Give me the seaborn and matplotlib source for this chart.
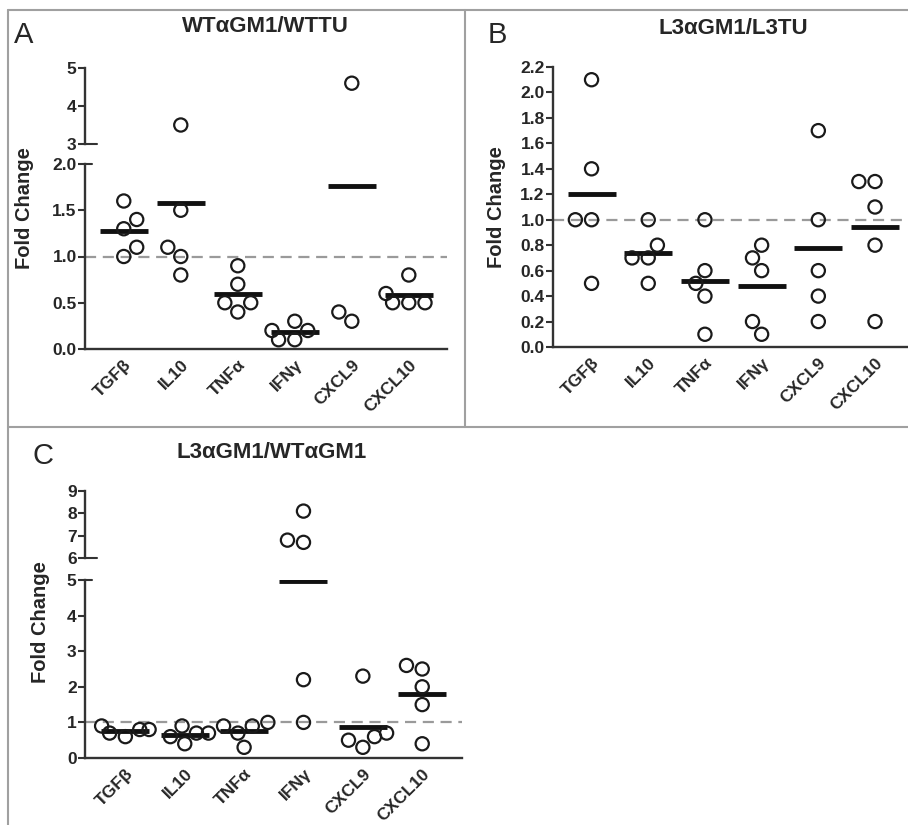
import numpy as np
import pandas as pd
import matplotlib
matplotlib.use('Agg')
import matplotlib.pyplot as plt
import seaborn as sns
from matplotlib.lines import Line2D

sns.set_style('ticks')
plt.rcParams['font.family'] = ['Liberation Sans', 'DejaVu Sans']

genes = ['TGFβ', 'IL10', 'TNFα', 'IFNγ', 'CXCL9', 'CXCL10']

# fold change values (one list per gene)
a_vals = [[1.0, 1.4, 1.6, 1.1, 1.3],
          [0.8, 1.5, 1.1, 1.0, 3.5],
          [0.9, 0.5, 0.4, 0.5, 0.7],
          [0.3, 0.2, 0.1, 0.1, 0.2],
          [0.3, 0.4, 4.6],
          [0.5, 0.5, 0.8, 0.5, 0.6]]
b_vals = [[2.1, 1.4, 1.0, 1.0, 0.5],
          [1.0, 0.8, 0.7, 0.7, 0.5],
          [1.0, 0.6, 0.5, 0.4, 0.1],
          [0.8, 0.7, 0.6, 0.2, 0.1],
          [1.7, 1.0, 0.6, 0.4, 0.2],
          [1.3, 1.3, 1.1, 0.8, 0.2]]
c_vals = [[0.9, 0.8, 0.8, 0.6, 0.7],
          [0.9, 0.7, 0.4, 0.6, 0.7],
          [0.9, 1.0, 0.9, 0.3, 0.7],
          [8.1, 6.7, 6.8, 2.2, 1.0],
          [2.3, 0.5, 0.3, 0.6, 0.7],
          [2.5, 2.6, 2.0, 1.5, 0.4]]

a_ticks_low = [0.0, 0.5, 1.0, 1.5, 2.0]
a_ticks_high = [3, 4, 5]
b_ticks = [0.0, 0.2, 0.4, 0.6, 0.8, 1.0, 1.2, 1.4, 1.6, 1.8, 2.0, 2.2]
c_ticks_low = [0, 1, 2, 3, 4, 5]
c_ticks_high = [6, 7, 8, 9]


def to_df(vals):
    rows = [(g, v) for g, vs in zip(genes, vals) for v in vs]
    return pd.DataFrame(rows, columns=['gene', 'fold'])


INK = '#262626'
SPINE = '#333333'


def style_axis(ax, ticks, fmt, show_x=True):
    ax.set_xlim(-0.68, 5.67)
    ax.set_ylim(ticks[0], ticks[-1])
    ax.set_yticks(ticks)
    ax.set_yticklabels([fmt.format(t) for t in ticks], fontsize=12.5,
                       fontweight='bold', color=INK)
    for s in ['top', 'right']:
        ax.spines[s].set_visible(False)
    for s in ['left', 'bottom']:
        ax.spines[s].set_linewidth(1.7)
        ax.spines[s].set_color(SPINE)
    ax.tick_params(axis='y', length=5, width=1.5, color=SPINE, pad=1)
    ax.set_xlabel('')
    ax.set_ylabel('')
    if show_x:
        ax.tick_params(axis='x', length=0, pad=6)
        ax.set_xticks(range(len(genes)))
        ax.set_xticklabels(genes, rotation=45, ha='right',
                           rotation_mode='anchor', fontsize=12.5,
                           fontweight='bold', color=INK)
    else:
        ax.spines['bottom'].set_visible(False)
        ax.tick_params(axis='x', length=0, labelbottom=False)
    ax.patch.set_alpha(0)


def draw_points(ax, df):
    sns.swarmplot(data=df, x='gene', y='fold', order=genes, ax=ax,
                  size=9.5, color='k', linewidth=1.6, zorder=3)
    for coll in ax.collections:
        coll.set_facecolor('none')
        coll.set_edgecolor('#1a1a1a')
    sns.pointplot(data=df, x='gene', y='fold', order=genes, ax=ax,
                  errorbar=None, markers='_', linestyles='none',
                  color='#111111', markersize=34, markeredgewidth=3.5)


def break_mark(ax, y, ext):
    ax.add_line(Line2D([0, ext], [y, y], transform=ax.transAxes,
                       color=SPINE, lw=1.5, clip_on=False))


fig = plt.figure(figsize=(9.08, 8.25), dpi=100)
W, H = 908, 825


def add_ax(x0, x1, ytop, ybot):
    return fig.add_axes([x0 / W, 1 - ybot / H, (x1 - x0) / W, (ybot - ytop) / H])


# panel A (broken axis)
df_a = to_df(a_vals)
axA_hi = add_ax(85, 447, 68, 144)
axA_lo = add_ax(85, 447, 164, 349)
for ax in (axA_hi, axA_lo):
    draw_points(ax, df_a)
axA_lo.axhline(1.0, color='#9a9a9a', lw=1.6, ls=(0, (5, 3)), zorder=1)
style_axis(axA_lo, a_ticks_low, '{:.1f}')
style_axis(axA_hi, a_ticks_high, '{:d}', show_x=False)
break_mark(axA_lo, 1, 7 / 362)
break_mark(axA_hi, 0, 12 / 362)

# panel B
df_b = to_df(b_vals)
axB = add_ax(553, 913, 67, 347)
draw_points(axB, df_b)
axB.axhline(1.0, color='#9a9a9a', lw=1.6, ls=(0, (5, 3)), zorder=1)
style_axis(axB, b_ticks, '{:.1f}')

# panel C (broken axis)
df_c = to_df(c_vals)
axC_hi = add_ax(85, 462, 491, 558)
axC_lo = add_ax(85, 462, 580, 758)
for ax in (axC_hi, axC_lo):
    draw_points(ax, df_c)
axC_lo.axhline(1.0, color='#9a9a9a', lw=1.6, ls=(0, (5, 3)), zorder=1)
style_axis(axC_lo, c_ticks_low, '{:d}')
style_axis(axC_hi, c_ticks_high, '{:d}', show_x=False)
break_mark(axC_lo, 1, 7 / 377)
break_mark(axC_hi, 0, 12 / 377)

# y labels
lab = dict(rotation=90, ha='center', va='center', fontsize=14.5,
           fontweight='bold', color=INK)
fig.text(25 / W, 1 - 208 / H, 'Fold Change', **lab)
fig.text(497 / W, 1 - 207 / H, 'Fold Change', **lab)
fig.text(40 / W, 1 - 622 / H, 'Fold Change', **lab)

# titles and panel letters
tit = dict(ha='center', va='center', fontsize=16, fontweight='bold', color=INK)
fig.text(265 / W, 1 - 27 / H, 'WTαGM1/WTTU', **tit)
fig.text(733 / W, 1 - 28 / H, 'L3αGM1/L3TU', **tit)
fig.text(272 / W, 1 - 453 / H, 'L3αGM1/WTαGM1', **tit)
let = dict(ha='left', va='center', fontsize=21, color=INK)
fig.text(14 / W, 1 - 35 / H, 'A', **let)
fig.text(488 / W, 1 - 35 / H, 'B', **let)
fig.text(32 / W, 1 - 456 / H, 'C', **let)

# panel frame lines
frame = dict(color='#a0a0a0', lw=1.5, transform=fig.transFigure)
fig.add_artist(Line2D([8 / W, 8 / W], [0, 1 - 10 / H], **frame))
fig.add_artist(Line2D([8 / W, 1], [1 - 10 / H, 1 - 10 / H], **frame))
fig.add_artist(Line2D([465 / W, 465 / W], [1 - 10 / H, 1 - 427 / H], **frame))
fig.add_artist(Line2D([8 / W, 1], [1 - 427 / H, 1 - 427 / H], **frame))

fig.savefig('out.png', dpi=100, facecolor='white')
